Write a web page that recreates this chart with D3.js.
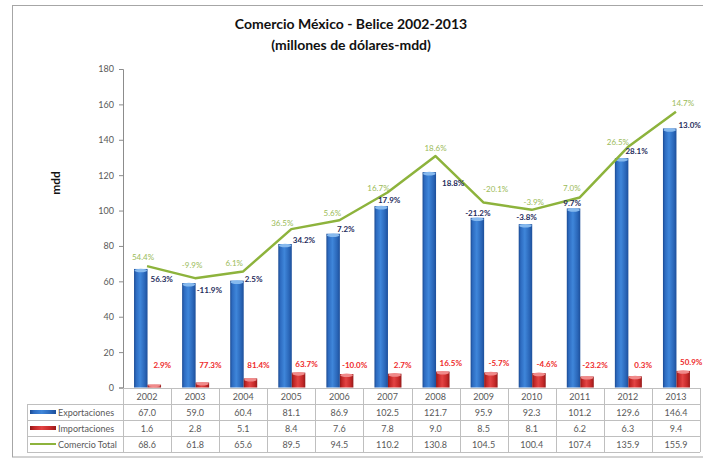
<!DOCTYPE html>
<html><head><meta charset="utf-8">
<script src="https://cdn.jsdelivr.net/npm/d3@7"></script>
<style>
html,body{margin:0;padding:0;background:#fff;}
svg{display:block;font-family:Lato,"Liberation Sans",sans-serif;}
</style></head>
<body>
<svg id="chart" width="703" height="459"></svg>
<script>
const years = ['2002','2003','2004','2005','2006','2007','2008','2009','2010','2011','2012','2013'];
const exportaciones = [67.0,59.0,60.4,81.1,86.9,102.5,121.7,95.9,92.3,101.2,129.6,146.4];
const importaciones = [1.6,2.8,5.1,8.4,7.6,7.8,9.0,8.5,8.1,6.2,6.3,9.4];
const comercioTotal = [68.6,61.8,65.6,89.5,94.5,110.2,130.8,104.5,100.4,107.4,135.9,155.9];
const expGrowth = ['56.3%','-11.9%','2.5%','34.2%','7.2%','17.9%','18.8%','-21.2%','-3.8%','9.7%','28.1%','13.0%'];
const impGrowth = ['2.9%','77.3%','81.4%','63.7%','-10.0%','2.7%','16.5%','-5.7%','-4.6%','-23.2%','0.3%','50.9%'];
const totGrowth = ['54.4%','-9.9%','6.1%','36.5%','5.6%','16.7%','18.6%','-20.1%','-3.9%','7.0%','26.5%','14.7%'];
const yTicks = [0,20,40,60,80,100,120,140,160,180];
const seriesNames = ['Exportaciones','Importaciones','Comercio Total'];

// layout-only nudges for growth labels
const expLabelNudge = [[3,10],[1,7],[1,-2],[1,-4],[-3,-5],[-10,-6],[6,11],[-19,-5],[-16,-7],[-17,-5],[-3,-7],[2,-3]];
const totLabelNudge = [[-4,-9],[-3,-13],[-9,-8],[-9,-6],[-7,-7],[-9,-5],[0,-8],[12,-14],[2,-8],[-8,-9],[-10,-5],[7,-9]];

(function(){
const svg = d3.select('#chart');
const defs = svg.append('defs');
function hGrad(id, stops){
  const g = defs.append('linearGradient').attr('id',id).attr('x1','0').attr('x2','1').attr('y1','0').attr('y2','0');
  stops.forEach(s=>g.append('stop').attr('offset',s[0]).attr('stop-color',s[1]));
}
hGrad('gBlue',[[0,'#1b4a92'],[0.15,'#2d6bc0'],[0.45,'#3f86da'],[0.8,'#2a66b8'],[1,'#1d4f9a']]);
hGrad('gRed',[[0,'#8e1717'],[0.15,'#c02626'],[0.45,'#e34444'],[0.8,'#c42828'],[1,'#951a1a']]);

svg.append('rect').attr('x',12.5).attr('y',5.5).attr('width',700).attr('height',451.5)
  .attr('fill','#fff').attr('stroke','#a6a6a6').attr('stroke-width',1);

svg.append('text').attr('x',351).attr('y',29).attr('text-anchor','middle')
  .attr('font-size',14).attr('font-weight','bold').attr('fill','#111')
  .text('Comercio México - Belice 2002-2013');
svg.append('text').attr('x',351).attr('y',50).attr('text-anchor','middle')
  .attr('font-size',14).attr('font-weight','bold').attr('fill','#111')
  .text('(millones de dólares-mdd)');

const pL = 123, pR = 700, pT = 69, pB = 387.5;
const x0 = d3.scaleBand().domain(years).range([pL,pR]).paddingInner(0).paddingOuter(0);
const groupW = 27;
const x1 = d3.scaleBand().domain(['exp','imp']).range([0,groupW]).padding(0);
const y = d3.scaleLinear().domain([0,180]).range([pB,pT]);
const bw = x0.bandwidth();
const gx = d => x0(d) + (bw - groupW)/2 + 0.5;

const yAxis = d3.axisLeft(y).tickValues(yTicks).tickSize(4).tickPadding(5);
const ya = svg.append('g').attr('transform',`translate(${pL},0)`).call(yAxis);
ya.select('.domain').attr('stroke','#8c8c8c');
ya.selectAll('.tick line').attr('stroke','#8c8c8c');
ya.selectAll('.tick text').attr('font-size',9).attr('fill','#595959').attr('font-family','Lato,sans-serif');

svg.append('text').attr('transform','translate(60,183) rotate(-90)').attr('text-anchor','middle')
  .attr('font-size',12).attr('font-weight','bold').attr('fill','#111').text('mdd');

const gBars = svg.append('g');
years.forEach((yr,i)=>{
  const xe = gx(yr) + x1('exp'), xi = gx(yr) + x1('imp');
  const w = x1.bandwidth();
  const ye = y(exportaciones[i]), yi = y(importaciones[i]);
  gBars.append('rect').attr('x',xe).attr('y',ye).attr('width',w).attr('height',y(0)-ye).attr('fill','url(#gBlue)');
  gBars.append('ellipse').attr('cx',xe+w/2).attr('cy',ye+1.5).attr('rx',w/2-0.5).attr('ry',1.8).attr('fill','#86b9ee');
  gBars.append('rect').attr('x',xi).attr('y',yi).attr('width',w).attr('height',y(0)-yi).attr('fill','url(#gRed)');
  gBars.append('ellipse').attr('cx',xi+w/2).attr('cy',yi+1.2).attr('rx',w/2-0.5).attr('ry',Math.min(1.8,(y(0)-yi)/2)).attr('fill','#f08a8a');
});

const line = d3.line().x((d,i)=>x0(years[i])+bw/2).y(d=>y(d));
svg.append('path').datum(comercioTotal).attr('d',line).attr('fill','none')
  .attr('stroke','#8db33c').attr('stroke-width',2.5).attr('stroke-linejoin','round');

const lbl = svg.append('g').attr('font-size',8).attr('font-family','Lato,sans-serif');
years.forEach((yr,i)=>{
  const w = x1.bandwidth();
  const xeR = gx(yr) + x1('exp') + w;
  const ye = y(exportaciones[i]);
  lbl.append('text').attr('x',xeR+expLabelNudge[i][0]).attr('y',ye+expLabelNudge[i][1]+3)
    .attr('fill','#1f2d5c').attr('font-weight','bold').text(expGrowth[i]);
  const xiC = gx(yr) + x1('imp') + w/2;
  const yi = y(importaciones[i]);
  lbl.append('text').attr('x',xiC+8).attr('y',Math.min(yi-9,365)+3).attr('text-anchor','middle')
    .attr('fill','#ee2a2a').attr('font-weight','bold').text(impGrowth[i]);
  const px = x0(yr)+bw/2, py = y(comercioTotal[i]);
  lbl.append('text').attr('x',px+totLabelNudge[i][0]).attr('y',py+totLabelNudge[i][1]+3).attr('text-anchor','middle')
    .attr('fill','#9bbb59').text(totGrowth[i]);
});

const tTop = 388, rowH = 16, legL = 27;
const tbl = svg.append('g').attr('stroke','#bfbfbf').attr('stroke-width',1).attr('fill','none');
tbl.append('line').attr('x1',pL).attr('x2',pR).attr('y1',tTop+0.5).attr('y2',tTop+0.5);
for(let r=1;r<=4;r++){
  tbl.append('line').attr('x1',legL).attr('x2',pR).attr('y1',tTop+r*rowH+0.5).attr('y2',tTop+r*rowH+0.5);
}
tbl.append('line').attr('x1',legL+0.5).attr('x2',legL+0.5).attr('y1',tTop+rowH).attr('y2',tTop+4*rowH);
years.forEach(yr=>{
  const xx = Math.round(x0(yr))+0.5;
  tbl.append('line').attr('x1',xx).attr('x2',xx).attr('y1',tTop).attr('y2',tTop+4*rowH);
});
tbl.append('line').attr('x1',pR+0.5).attr('x2',pR+0.5).attr('y1',tTop).attr('y2',tTop+4*rowH);

const tt = svg.append('g').attr('font-size',9).attr('fill','#595959').attr('font-family','Lato,sans-serif');
const rows = [exportaciones, importaciones, comercioTotal];
years.forEach((yr,i)=>{
  const cx = x0(yr)+bw/2;
  tt.append('text').attr('x',cx).attr('y',tTop+rowH/2+3.5).attr('text-anchor','middle').text(yr);
  rows.forEach((arr,r)=>{
    tt.append('text').attr('x',cx).attr('y',tTop+(r+1)*rowH+rowH/2+3.5).attr('text-anchor','middle').text(arr[i].toFixed(1));
  });
});
seriesNames.forEach((n,r)=>{
  const cy = tTop+(r+1)*rowH+rowH/2;
  if(r===0) svg.append('rect').attr('x',30).attr('y',cy-2).attr('width',26).attr('height',4).attr('fill','url(#gBlue)');
  if(r===1) svg.append('rect').attr('x',30).attr('y',cy-2).attr('width',26).attr('height',4).attr('fill','url(#gRed)');
  if(r===2) svg.append('line').attr('x1',30).attr('x2',56).attr('y1',cy).attr('y2',cy).attr('stroke','#8db33c').attr('stroke-width',2);
  tt.append('text').attr('x',58).attr('y',cy+3.5).text(n);
});
})();
</script>
</body></html>
